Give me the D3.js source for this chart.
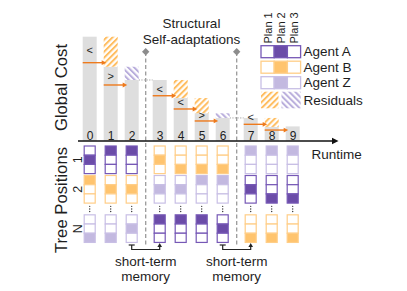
<!DOCTYPE html>
<html><head><meta charset="utf-8">
<script src="https://cdn.jsdelivr.net/npm/d3@7"></script>
<style>
html,body{margin:0;padding:0;background:#fff;}
svg{display:block;font-family:"Liberation Sans",Arial,sans-serif;}
</style></head>
<body><svg id="c" width="407" height="291"></svg>
<script>
// ---- data ----
const steps = [0,1,2,3,4,5,6,7,8,9];
const cost = [100, 71.2, 58.5, 58.5, 41.2, 26.6, 22.1, 22.1, 13.5, 14.0];
const residualAgent = [null,'B','Z',null,'B','B','Z',null,'B',null];
const arrowFrom = [0,1,3,4,5,7,8];
const arrowLevel = [75.1, 53.7, 43.4, 30.7, 19.2, 16.0, 10.5];
const symbolStep = [0,1,3,4,5,7];
const symbolChar = ['<','>','<','<','>','<'];
const symbolLevel = [87.2, 62.3, 49.6, 37.7, 24.9, 23.3];
const adaptAfter = [2, 6];
const treeRows = ['1','2','N'];
const agentAt = [['A','B','Z'],['A','B','Z'],['A','B','Z'],['B','Z','A'],['B','Z','A'],['B','Z','A'],['B','Z','A'],['Z','A','B'],['Z','A','B'],['Z','A','B']];
const planAt = [[2,1,3],[1,2,3],[1,2,2],[2,2,1],[3,2,1],[3,1,1],[3,1,2],[1,2,3],[1,3,3],[1,3,3]];
const agentKeys = ['A','B','Z'];
const agentNames = ['Agent A','Agent B','Agent Z'];
const planNames = ['Plan 1','Plan 2','Plan 3'];
const residualKeys = ['B','Z'];

// ---- styles ----
const fillC = {A:'#6B4CA8', B:'#FFC46E', Z:'#C3B9E0'};
const strokeC = {A:'#7658B6', B:'#FFCE88', Z:'#C8BFE5'};
const hatchC = {B:'#FFBE62', Z:'#B9AEDC'};
const txt = '#1e1e1e';
const barGrey = '#DEDEDE';

const svg = d3.select('#c');
const defs = svg.append('defs');
residualKeys.forEach(k => {
  const p = defs.append('pattern').attr('id','hatch'+k)
    .attr('patternUnits','userSpaceOnUse').attr('width',4.2).attr('height',4.2)
    .attr('patternTransform', k==='B' ? 'rotate(45)' : 'rotate(-45)');
  p.append('rect').attr('width',4.2).attr('height',4.2).attr('fill','#fff');
  p.append('rect').attr('width',2).attr('height',4.2).attr('fill',hatchC[k]);
});

// ---- scales ----
const slot = i => i + adaptAfter.filter(a => i > a).length/3;
const xs = d3.scaleLinear().domain([0,1]).range([89.7,110.7]);
const xc = i => xs(slot(i));
const y = d3.scaleLinear().domain([0,100]).range([141,36.7]);
const bw = 14;
const axisY = y(0);

// ---- adaptation dashed lines ----
adaptAfter.forEach(a => {
  const ax = xs((slot(a)+slot(a+1))/2);
  svg.append('line').attr('x1',ax).attr('x2',ax).attr('y1',52).attr('y2',247)
    .attr('stroke','#9a9a9a').attr('stroke-width',1.3).attr('stroke-dasharray','4,2.5');
  svg.append('rect').attr('x',ax-2.6).attr('y',51.7-2.6).attr('width',5.2).attr('height',5.2)
    .attr('transform',`rotate(45,${ax},51.7)`).attr('fill','#8c8c8c');
  // dotted level continuation
  svg.append('line').attr('x1',xc(a)+bw/2).attr('x2',xc(a+1)-bw/2)
    .attr('y1',y(cost[a])).attr('y2',y(cost[a]))
    .attr('stroke','#a8a8a8').attr('stroke-width',1).attr('stroke-dasharray','1.3,1.3');
  // short-term memory bracket
  const x0 = xc(a), x1 = xc(a+1);
  const g = svg.append('g').attr('stroke','#222').attr('stroke-width',1.2).attr('fill','none');
  g.append('line').attr('x1',x0-3).attr('x2',x0+3).attr('y1',245).attr('y2',245);
  g.append('path').attr('d',`M${x0},245 V249.5 H${x1} V246.5`);
  svg.append('path').attr('d',`M${x1-2.3},247 L${x1},243 L${x1+2.3},247 Z`).attr('fill','#222');
  svg.append('text').attr('x',ax).attr('y',266).attr('text-anchor','middle')
    .attr('font-size',13.5).attr('fill',txt).text('short-term');
  svg.append('text').attr('x',ax).attr('y',280.5).attr('text-anchor','middle')
    .attr('font-size',13.5).attr('fill',txt).text('memory');
});

// ---- bars ----
svg.append('g').selectAll('rect').data(steps).join('rect')
  .attr('x', i => xc(i)-bw/2).attr('width', bw)
  .attr('y', i => y(cost[i])).attr('height', i => axisY - y(cost[i]))
  .attr('fill', barGrey);

// residual hatches
svg.append('g').selectAll('rect').data(steps.filter(i => residualAgent[i])).join('rect')
  .attr('x', i => xc(i)-bw/2).attr('width', bw)
  .attr('y', i => y(cost[i-1])).attr('height', i => y(cost[i]) - y(cost[i-1]))
  .attr('fill', i => `url(#hatch${residualAgent[i]})`);

// comparison symbols
svg.append('g').selectAll('text').data(symbolStep).join('text')
  .attr('x', (s) => xc(s)).attr('y', (s,k) => y(symbolLevel[k]))
  .attr('text-anchor','middle').attr('dominant-baseline','central')
  .attr('font-size',11).attr('fill',txt).text((s,k) => symbolChar[k]);

// orange arrows
const arrowG = svg.append('g');
arrowFrom.forEach((s,k) => {
  const x0 = xc(s)-bw/2, x1 = xc(s+1)-bw/2+2.5, yy = y(arrowLevel[k]);
  arrowG.append('line').attr('x1',x0).attr('x2',x1-3).attr('y1',yy).attr('y2',yy)
    .attr('stroke','#EE7A1C').attr('stroke-width',1.4);
  arrowG.append('path').attr('d',`M${x1-4.5},${yy-2.4} L${x1},${yy} L${x1-4.5},${yy+2.4} Z`).attr('fill','#EE7A1C');
});

// ---- axis ----
const xStep = d3.scaleOrdinal().domain(steps).range(steps.map(xc));
const ax = svg.append('g').attr('transform',`translate(0,${axisY})`)
  .call(d3.axisTop(xStep).tickSize(0).tickPadding(1.5));
ax.select('.domain').remove();
ax.selectAll('text').attr('font-size',12).attr('fill',txt).attr('font-family','"Liberation Sans",Arial,sans-serif');
svg.append('line').attr('x1',78).attr('x2',333).attr('y1',axisY).attr('y2',axisY)
  .attr('stroke','#111').attr('stroke-width',1.5);
svg.append('path').attr('d',`M332,${axisY-3.2} L338.5,${axisY} L332,${axisY+3.2} Z`).attr('fill','#111');
svg.append('text').attr('x',311.5).attr('y',159).attr('font-size',13.5).attr('fill',txt).text('Runtime');

// ---- title ----
svg.append('text').attr('x',191.5).attr('y',28.3).attr('text-anchor','middle').attr('font-size',13.5).attr('fill',txt).text('Structural');
svg.append('text').attr('x',191.5).attr('y',43.6).attr('text-anchor','middle').attr('font-size',13.5).attr('fill',txt).text('Self-adaptations');

// ---- axis titles ----
svg.append('text').attr('transform','translate(66.8,87.5) rotate(-90)').attr('text-anchor','middle')
  .attr('font-size',16.7).attr('fill',txt).text('Global Cost');
svg.append('text').attr('transform','translate(66.8,200) rotate(-90)').attr('text-anchor','middle')
  .attr('font-size',16.7).attr('fill',txt).text('Tree Positions');

// ---- tree positions ----
const rowIdx = r => r + (r >= 2 ? 1/3 : 0);
const yTree = d3.scaleLinear().domain([0,1]).range([146,175.5]);
const ch = 9.2, cw = 11;
treeRows.forEach((lab,r) => {
  svg.append('text').attr('transform',`translate(82,${yTree(rowIdx(r))+1.5*ch}) rotate(-90)`)
    .attr('text-anchor','middle').attr('font-size',12.5).attr('fill',txt).text(lab);
});
const tg = svg.append('g');
steps.forEach(i => {
  const cx = xc(i);
  treeRows.forEach((lab,r) => {
    const ag = agentAt[i][r], pl = planAt[i][r];
    const gy = yTree(rowIdx(r));
    for (let p = 1; p <= 3; p++) {
      tg.append('rect').attr('x',cx-cw/2).attr('y',gy+(p-1)*ch).attr('width',cw).attr('height',ch)
        .attr('fill', p===pl ? fillC[ag] : '#fff').attr('stroke',strokeC[ag]).attr('stroke-width',1.2);
    }
  });
  // ellipsis
  const yd = (yTree(1)+3*ch + yTree(rowIdx(2)))/2;
  [-2.6,0,2.6].forEach(d => tg.append('circle').attr('cx',cx).attr('cy',yd+d).attr('r',0.7).attr('fill','#333'));
});

// ---- legend ----
const lx = d3.scaleLinear().domain([0,1]).range([261,274.2]);
const lw = 13.2, lh = 12;
const ly = d3.scaleLinear().domain([0,1]).range([45.7,61.2]);
planNames.forEach((pn,k) => {
  svg.append('text').attr('transform',`translate(${lx(k)+lw/2+3.9},43.5) rotate(-90)`)
    .attr('font-size',11).attr('fill',txt).text(pn);
});
agentKeys.forEach((ag,r) => {
  for (let k = 0; k < 3; k++) {
    svg.append('rect').attr('x',lx(k)).attr('y',ly(r)).attr('width',lw).attr('height',lh)
      .attr('fill', k===1 ? fillC[ag] : '#fff').attr('stroke',strokeC[ag]).attr('stroke-width',1.3);
  }
  svg.append('text').attr('x',303.5).attr('y',ly(r)+lh/2).attr('dominant-baseline','central')
    .attr('font-size',13.5).attr('fill',txt).text(agentNames[r]);
});
const ry = ly(3) - 0.5;
residualKeys.forEach((k,j) => {
  svg.append('rect').attr('x', j===0 ? 261 : 281.5).attr('y',ry).attr('width', j===0 ? 17.5 : 19.2).attr('height',16.6)
    .attr('fill',`url(#hatch${k})`);
});
svg.append('text').attr('x',303.5).attr('y',ry+8.3).attr('dominant-baseline','central')
  .attr('font-size',13.5).attr('fill',txt).text('Residuals');
</script></body></html>
